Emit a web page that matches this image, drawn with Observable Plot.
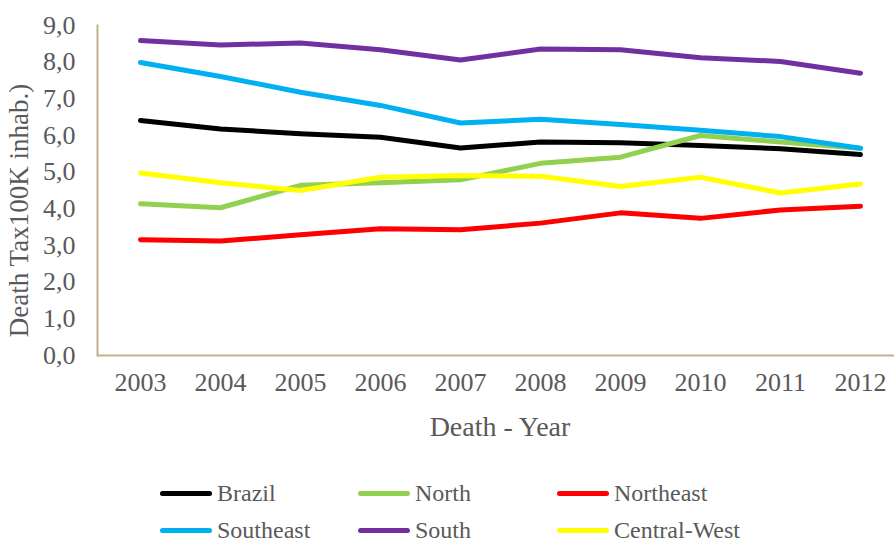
<!DOCTYPE html>
<html>
<head>
<meta charset="utf-8">
<script src="https://cdn.jsdelivr.net/npm/d3@7"></script>
<script src="https://cdn.jsdelivr.net/npm/@observablehq/plot@0.6"></script>
<style>
  html, body { margin: 0; padding: 0; background: #fff; }
  #wrap { position: relative; width: 894px; height: 545px; overflow: hidden; font-family: "Liberation Serif", serif; }
  #legend { position: absolute; left: 0; top: 460px; width: 894px; height: 85px; }
  .item { position: absolute; display: flex; align-items: center; font-size: 24px; line-height: 20px; height: 20px; color: #595959; white-space: nowrap; }
  .sw { width: 52px; height: 5px; border-radius: 3px; margin-right: 5px; }
</style>
</head>
<body>
<div id="wrap">
  <div id="chart"></div>
  <div id="legend"></div>
</div>
<script>
const years = [2003, 2004, 2005, 2006, 2007, 2008, 2009, 2010, 2011, 2012];
const seriesNames = ["Brazil", "North", "Northeast", "Southeast", "South", "Central-West"];
const seriesColors = ["#000000", "#92D050", "#FF0000", "#00B0F0", "#7030A0", "#FFFF00"];
const brazil      = [6.41, 6.18, 6.05, 5.95, 5.66, 5.82, 5.80, 5.73, 5.64, 5.48];
const north       = [4.14, 4.03, 4.64, 4.71, 4.79, 5.24, 5.41, 6.00, 5.82, 5.65];
const northeast   = [3.16, 3.12, 3.29, 3.46, 3.43, 3.61, 3.89, 3.74, 3.97, 4.07];
const southeast   = [7.99, 7.61, 7.18, 6.82, 6.34, 6.44, 6.30, 6.14, 5.97, 5.65];
const south       = [8.59, 8.47, 8.52, 8.34, 8.06, 8.36, 8.34, 8.12, 8.02, 7.70];
const centralWest = [4.98, 4.71, 4.50, 4.86, 4.91, 4.89, 4.61, 4.86, 4.43, 4.68];
const yTicks = [0, 1, 2, 3, 4, 5, 6, 7, 8, 9];

const seriesValues = [brazil, north, northeast, southeast, south, centralWest];
const data = seriesNames.flatMap((name, i) =>
  years.map((year, j) => ({series: name, year, value: seriesValues[i][j]})));

const fontFamily = '"Liberation Serif", serif';
const textColor = "#595959";
const axisColor = "#BEB28C";

const chart = Plot.plot({
  width: 894,
  height: 460,
  marginLeft: 97,
  marginRight: -8,
  marginTop: 25,
  marginBottom: 105,
  style: {fontFamily, color: textColor, background: "#fff", overflow: "visible"},
  x: {type: "point", domain: years, padding: 0.5},
  y: {domain: [0, 9]},
  color: {domain: seriesNames, range: seriesColors},
  marks: [
    Plot.frame({anchor: "left", stroke: axisColor, strokeWidth: 2}),
    Plot.ruleY([0], {stroke: axisColor, strokeWidth: 2}),
    Plot.axisY({
      ticks: yTicks, tickSize: 0, tickPadding: 22, fontSize: 26, fill: textColor,
      tickFormat: d => d.toFixed(1).replace(".", ","),
      label: "Death Tax100K inhab.)", labelAnchor: "center", labelOffset: 89, labelArrow: "none"
    }),
    Plot.axisX({
      ticks: years, tickSize: 0, tickPadding: 17, fontSize: 26, fill: textColor,
      tickFormat: d => String(d),
      label: "Death - Year", labelAnchor: "center", labelOffset: 80, labelArrow: "none"
    }),
    Plot.line(data, {x: "year", y: "value", z: "series", stroke: "series", strokeWidth: 5, strokeLinejoin: "round", strokeLinecap: "round"})
  ]
});
chart.querySelectorAll('[aria-label="y-axis label"] text').forEach(t => {
  t.setAttribute("font-size", 27);
  t.setAttribute("transform", (t.getAttribute("transform") || "") + " translate(-20,0)");
});
chart.querySelectorAll('[aria-label="x-axis label"] text').forEach(t => t.setAttribute("font-size", 28));
document.getElementById("chart").appendChild(chart);

const legend = document.getElementById("legend");
const colX = [160, 358, 557];
const rowY = [33, 70];
seriesNames.forEach((name, i) => {
  const item = document.createElement("div");
  item.className = "item";
  item.style.left = colX[i % 3] + "px";
  item.style.top = (rowY[Math.floor(i / 3)] - 10) + "px";
  const sw = document.createElement("span");
  sw.className = "sw";
  sw.style.background = seriesColors[i];
  const label = document.createElement("span");
  label.textContent = name;
  item.appendChild(sw);
  item.appendChild(label);
  legend.appendChild(item);
});
</script>
</body>
</html>
